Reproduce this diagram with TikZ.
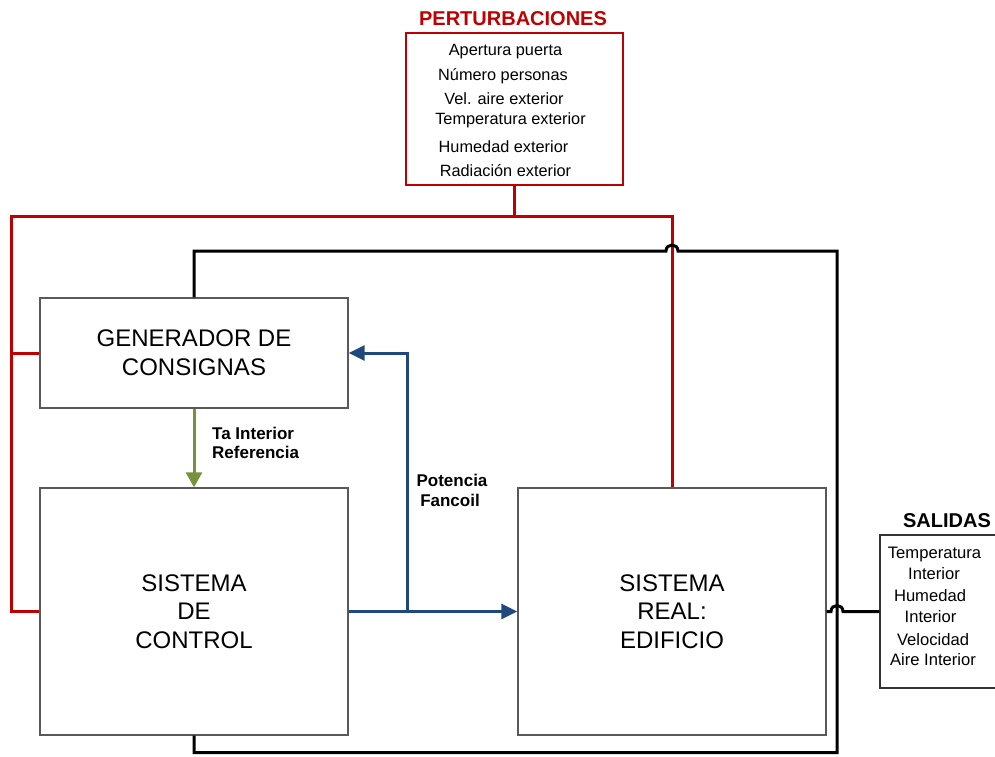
\documentclass[tikz,border=0pt]{standalone}
\usepackage{fontspec}
\setmainfont{Liberation Sans}
\usetikzlibrary{arrows.meta,calc}
\definecolor{pertred}{RGB}{192,0,0}
\definecolor{ctrlblue}{RGB}{31,73,125}
\definecolor{refgreen}{RGB}{118,146,60}
\begin{document}
\begin{tikzpicture}[x=1pt,y=-1pt,
  block/.style={draw=black!65, line width=1.4pt, fill=white, align=center,
    inner sep=0pt, minimum width=308pt},
  bigtext/.style={font=\fontsize{24}{29}\selectfont},
  ctrltext/.style={font=\fontsize{24}{28.5}\selectfont},
  itemtext/.style={font=\fontsize{16.3}{18}\selectfont, inner sep=0pt, anchor=base},
  outtext/.style={font=\fontsize{16.6}{18}\selectfont, inner sep=0pt, anchor=base},
  labeltext/.style={font=\bfseries\fontsize{17}{19.5}\selectfont, inner sep=0pt, anchor=base},
  redline/.style={draw=pertred, line width=3pt},
  blackline/.style={draw=black, line width=3pt},
  blueline/.style={draw=ctrlblue, line width=3pt, -{Triangle[length=16pt,width=15pt]}},
  greenline/.style={draw=refgreen, line width=3pt, -{Triangle[length=15pt,width=16pt]}}]
\useasboundingbox (0,0) rectangle (995,756);

% main blocks
\node[block, bigtext, minimum height=110pt] (gen) at (194,353) {GENERADOR DE\\CONSIGNAS};
\node[block, ctrltext, minimum height=247pt] (ctrl) at (194,611.5) {SISTEMA\\DE\\CONTROL};
\node[block, ctrltext, minimum height=247pt] (real) at (672,611.5) {SISTEMA\\REAL:\\EDIFICIO};

% disturbances box
\node[draw=pertred, line width=1.5pt, minimum width=217pt, minimum height=152pt, inner sep=0pt] (pbox) at (514.5,109) {};
\node[text=pertred, font=\bfseries\fontsize{20}{22}\selectfont, inner sep=0pt, anchor=base] (ptitle) at (513,25) {PERTURBACIONES};
\node[itemtext] (p1) at (505.5,55) {Apertura puerta};
\node[itemtext] (p2) at (503,80) {Número personas};
\node[itemtext] (p3) at (504,104) {Vel. aire exterior};
\node[itemtext] (p4) at (510.5,124.5) {Temperatura exterior};
\node[itemtext] (p5) at (503.5,152.5) {Humedad exterior};
\node[itemtext] (p6) at (505.5,176.5) {Radiación exterior};

% outputs box
\node[draw=black!80, line width=1.4pt, minimum width=120pt, minimum height=153pt, inner sep=0pt] (sal) at (940,611.5) {};
\node[font=\bfseries\fontsize{20}{22}\selectfont, inner sep=0pt, anchor=base] (stitle) at (947,527) {SALIDAS};
\node[outtext] (s1) at (934.5,558) {Temperatura};
\node[outtext] (s2) at (934,579) {Interior};
\node[outtext] (s3) at (930,601.5) {Humedad};
\node[outtext] (s4) at (930.5,622.5) {Interior};
\node[outtext] (s5) at (933,645.5) {Velocidad};
\node[outtext] (s6) at (933,665.5) {Aire Interior};

% disturbance distribution (red)
\draw[redline] (pbox.south) -- (pbox.south |- 11,216);
\draw[redline] (real.north) |- (11,216) |- (ctrl.west);
\draw[redline] (11,353) -- (gen.west);

% feedback loop (black) with line jump over the red line
\draw[blackline] (gen.north) -- (194,251) -- (666,251)
  .. controls (666,243) and (678,243) .. (678,251)
  -- (837,251) -- (837,752.5) -- (194,752.5) -- (ctrl.south);

% output line with jump over the loop
\draw[blackline] (real.east) -- (831,611.5)
  .. controls (831,603.5) and (843,603.5) .. (843,611.5) -- (sal.west);

% reference signal (green)
\draw[greenline] (gen.south) -- (ctrl.north);
\node[labeltext, anchor=base west] (lref1) at (212,439) {Ta Interior};
\node[labeltext, anchor=base west] (lref2) at (212,458) {Referencia};

% control action (blue)
\coordinate (fb) at (407,611.5);
\draw[blueline] (ctrl.east) -- (real.west);
\draw[blueline] (fb) |- (gen.east);
\node[labeltext] (lpot1) at (452,486) {Potencia};
\node[labeltext] (lpot2) at (450,506) {Fancoil};
\end{tikzpicture}
\end{document}
